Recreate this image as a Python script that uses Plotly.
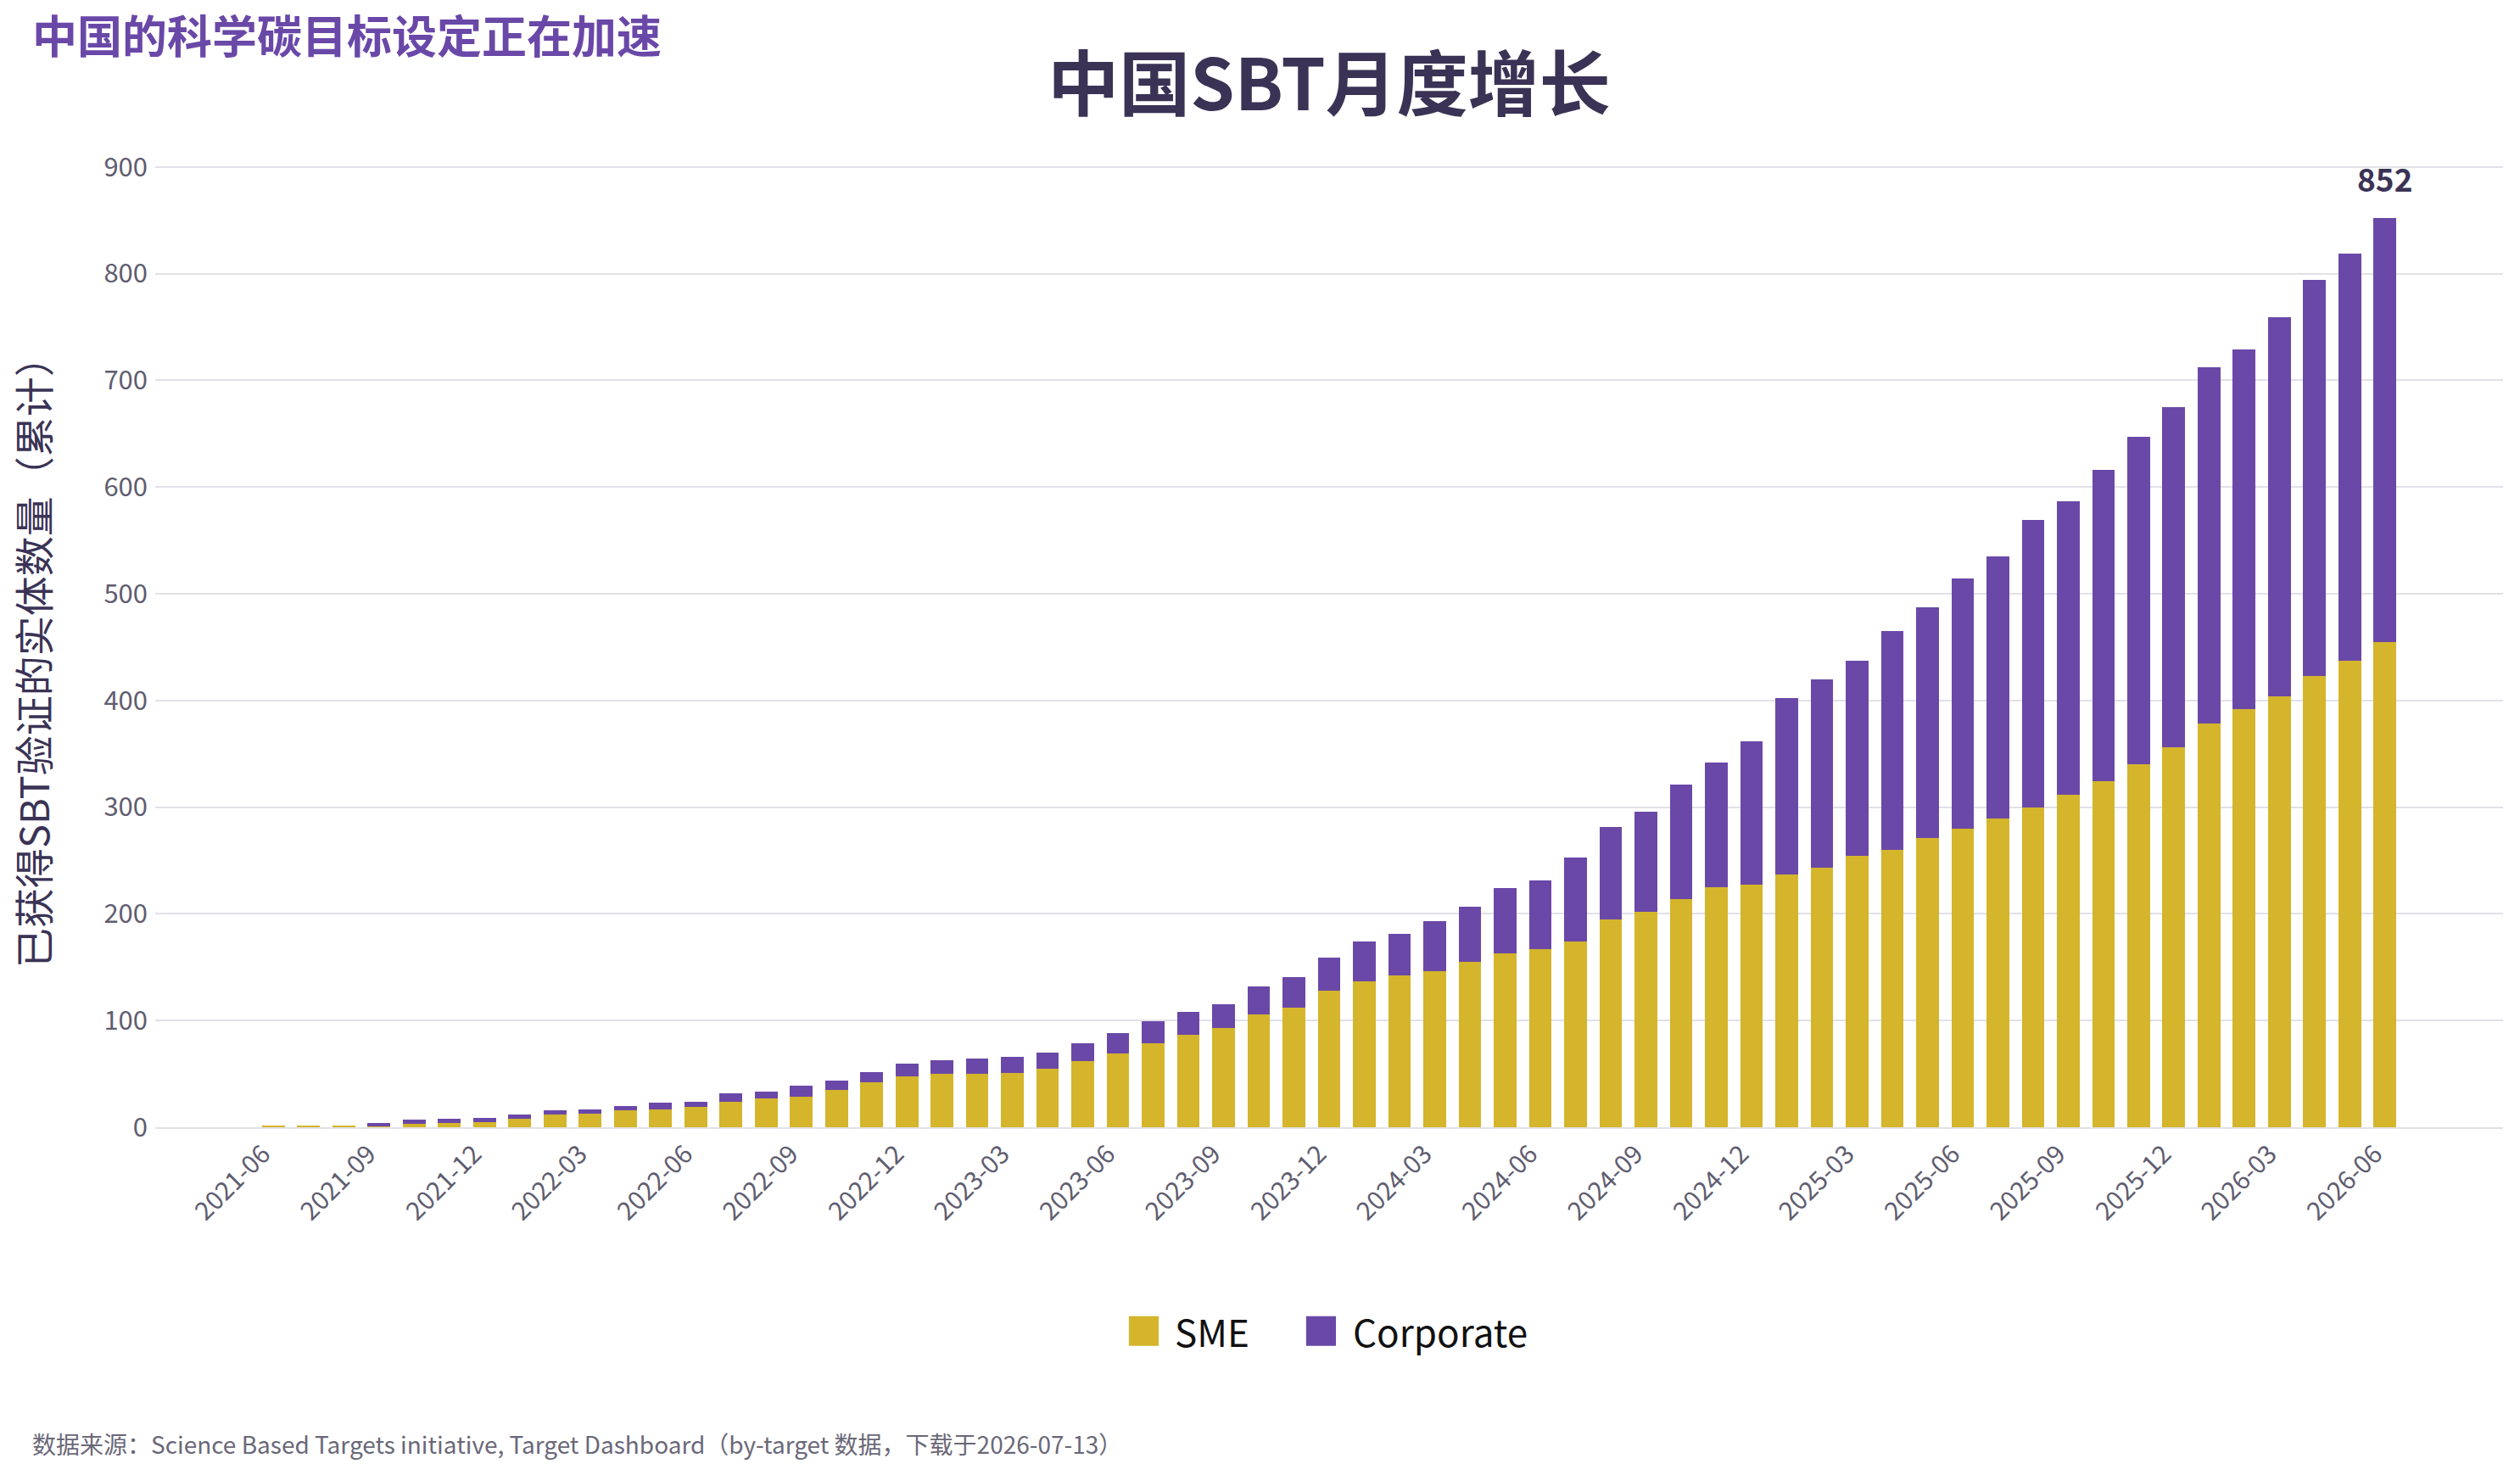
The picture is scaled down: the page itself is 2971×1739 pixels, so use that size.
import plotly.graph_objects as go

months = [
    "2021-06", "2021-07", "2021-08", "2021-09", "2021-10", "2021-11", "2021-12",
    "2022-01", "2022-02", "2022-03", "2022-04", "2022-05", "2022-06",
    "2022-07", "2022-08", "2022-09", "2022-10", "2022-11", "2022-12",
    "2023-01", "2023-02", "2023-03", "2023-04", "2023-05", "2023-06",
    "2023-07", "2023-08", "2023-09", "2023-10", "2023-11", "2023-12",
    "2024-01", "2024-02", "2024-03", "2024-04", "2024-05", "2024-06",
    "2024-07", "2024-08", "2024-09", "2024-10", "2024-11", "2024-12",
    "2025-01", "2025-02", "2025-03", "2025-04", "2025-05", "2025-06",
    "2025-07", "2025-08", "2025-09", "2025-10", "2025-11", "2025-12",
    "2026-01", "2026-02", "2026-03", "2026-04", "2026-05", "2026-06",
]

# cumulative totals (SME + Corporate)
total = [
    1, 1, 1, 4, 7, 8, 9,
    12, 16, 17, 20, 23, 24,
    32, 33, 39, 44, 52, 60,
    63, 64, 66, 70, 79, 88,
    99, 108, 115, 132, 141, 159,
    174, 181, 193, 207, 224, 231,
    253, 281, 296, 321, 342, 362,
    402, 420, 437, 465, 487, 514,
    535, 569, 587, 616, 647, 675,
    712, 729, 759, 794, 819, 852,
]

sme = [
    1, 1, 1, 1, 3, 4, 5,
    8, 12, 13, 16, 17, 19,
    24, 27, 29, 35, 42, 48,
    50, 50, 51, 55, 62, 69,
    79, 87, 93, 106, 112, 128,
    137, 142, 146, 155, 163, 167,
    174, 195, 202, 214, 225, 227,
    237, 243, 254, 260, 271, 280,
    289, 300, 312, 324, 340, 356,
    378, 392, 404, 423, 437, 455,
]

corporate = [t - s for t, s in zip(total, sme)]

tick_labels = months[::3]

SME_COLOR = "#d4b52b"
CORP_COLOR = "#6a48a8"
DARK = "#3a3355"
GRAY = "#5f5d70"
FONT = "Noto Sans CJK SC"

fig = go.Figure()
fig.add_trace(go.Bar(x=months, y=sme, name="SME", marker_color=SME_COLOR,
                     marker_line_width=0, showlegend=False))
fig.add_trace(go.Bar(x=months, y=corporate, name="Corporate", marker_color=CORP_COLOR,
                     marker_line_width=0, showlegend=False))

fig.update_layout(
    barmode="stack",
    bargap=0.35,
    width=2971,
    height=1739,
    margin=dict(l=183, r=20, t=193, b=410),
    paper_bgcolor="white",
    plot_bgcolor="white",
    font=dict(family=FONT, color=GRAY),
    title=dict(
        text="<b>中国SBT月度增长</b>",
        x=0.5, xref="paper", xanchor="center",
        y=1 - 101 / 1739, yref="container", yanchor="middle",
        font=dict(family=FONT, size=84, color=DARK),
    ),
    xaxis=dict(
        type="category",
        range=[-3.35, 63.35],
        tickmode="array",
        tickvals=tick_labels,
        ticktext=tick_labels,
        tickangle=-45,
        ticklabelshift=-12,
        tickfont=dict(family=FONT, size=30, color=GRAY),
        showgrid=False,
        showline=True,
        linecolor="#e2e0e8",
        linewidth=2,
        ticks="",
    ),
    yaxis=dict(
        range=[0, 903],
        tickmode="linear",
        tick0=0,
        dtick=100,
        ticklabelstandoff=8,
        tickfont=dict(family=FONT, size=31, color=GRAY),
        showgrid=True,
        gridcolor="#e2e0e8",
        gridwidth=2,
        zeroline=False,
        ticks="",
    ),
)

# y-axis title
fig.add_annotation(
    text="已获得SBT验证的实体数量（累计）",
    xref="paper", yref="paper", x=-0.0525, y=0.4926,
    xanchor="center", yanchor="middle", textangle=-90, showarrow=False,
    font=dict(family=FONT, size=47, color=DARK),
)

# headline
fig.add_annotation(
    text="<b>中国的科学碳目标设定正在加速</b>",
    xref="paper", yref="paper", x=-0.0530, y=1.1347,
    xanchor="left", yanchor="middle", showarrow=False,
    font=dict(family=FONT, size=53, color=CORP_COLOR),
)

# last total label
fig.add_annotation(
    text=f"<b>{total[-1]}</b>",
    x=months[-1], y=total[-1], xref="x", yref="y",
    xanchor="center", yanchor="bottom", yshift=18, showarrow=False,
    font=dict(family=FONT, size=37, color=DARK),
)

# source note
fig.add_annotation(
    text="数据来源：Science Based Targets initiative, Target Dashboard（by-target 数据，下载于2026-07-13）",
    xref="paper", yref="paper", x=-0.0530, y=-0.3283,
    xanchor="left", yanchor="middle", showarrow=False,
    font=dict(family=FONT, size=28, color="#6a6878"),
)

# custom legend
legend_items = [("SME", SME_COLOR, 0.4147, 0.4335), ("Corporate", CORP_COLOR, 0.4902, 0.5095)]
for name, color, sx, tx in legend_items:
    fig.add_shape(type="rect", xref="paper", yref="paper",
                  x0=sx, x1=sx + 0.0127, y0=-0.2268, y1=-0.1960,
                  fillcolor=color, line_width=0)
    fig.add_annotation(text=name, xref="paper", yref="paper", x=tx, y=-0.2114,
                       xanchor="left", yanchor="middle", showarrow=False,
                       font=dict(family=FONT, size=44, color="#111111"))

fig.write_html("out.html")
